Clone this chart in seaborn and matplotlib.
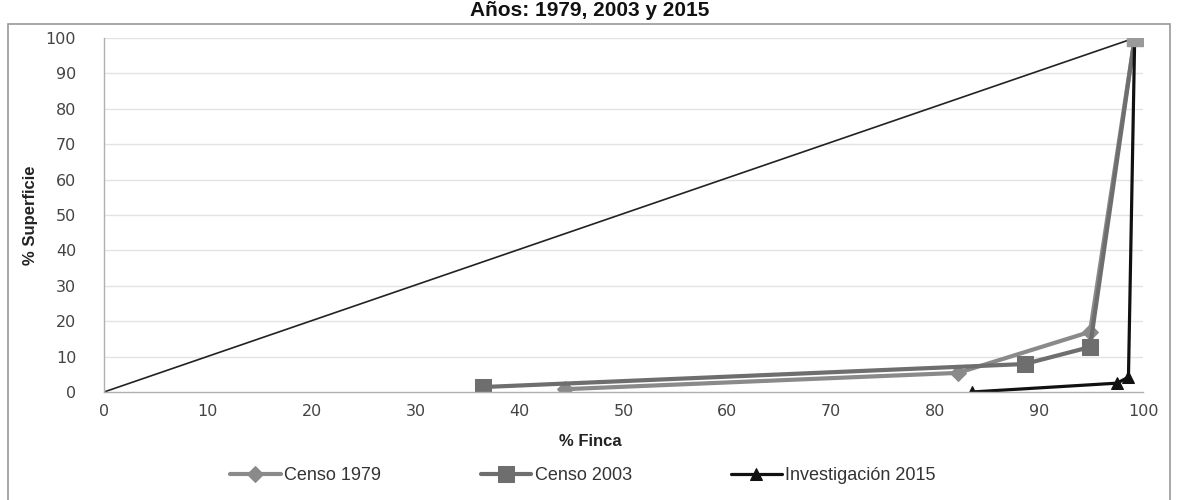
import pandas as pd
import seaborn as sns
import matplotlib.pyplot as plt
from matplotlib.patches import Rectangle

# values (% finca, % superficie)
finca_1979 = [44.4, 82.2, 94.9, 99.2]
sup_1979 = [0.8, 5.4, 17.0, 100]
finca_2003 = [36.5, 88.6, 94.9, 99.2]
sup_2003 = [1.4, 7.9, 12.7, 100]
finca_2015 = [83.5, 97.5, 98.6, 99.2]
sup_2015 = [0.0, 2.5, 4.2, 100]
diagonal_x = [0, 99.2]
diagonal_y = [0, 100]

labels = ["Censo 1979", "Censo 2003", "Investigación 2015"]
ticks = list(range(0, 101, 10))

sns.set_theme(style="white")
plt.rcParams['font.family'] = ['DejaVu Sans']

fig = plt.figure(figsize=(11.77, 5), dpi=100)
ax = fig.add_axes([104 / 1177, 1 - 392 / 500, (1143 - 104) / 1177, (392 - 38) / 500])

# grey frame of the original chart box
fig.patches.append(Rectangle((8 / 1177, -0.05), (1170 - 8) / 1177, 1.05 - 24 / 500,
                             transform=fig.transFigure, fill=False,
                             edgecolor="#9a9a9a", linewidth=1.2))

for y in ticks[1:]:
    ax.axhline(y, color="#e3e3e3", linewidth=1, zorder=0)

sns.lineplot(x=diagonal_x, y=diagonal_y, ax=ax, color="#222222", linewidth=1.2)

sns.lineplot(x=finca_1979, y=sup_1979, ax=ax, sort=False, color="#8a8a8a",
             linewidth=3, marker="D", markersize=8, markeredgecolor="#8a8a8a",
             label=labels[0])
sns.lineplot(x=finca_2003, y=sup_2003, ax=ax, sort=False, color="#6e6e6e",
             linewidth=3, marker="s", markersize=11, markeredgecolor="#6e6e6e",
             label=labels[1])
sns.lineplot(x=finca_2015, y=sup_2015, ax=ax, sort=False, color="#111111",
             linewidth=2.3, marker="^", markersize=9, markeredgecolor="#111111",
             label=labels[2])
# grey marker on top of the last point
ax.plot([finca_1979[-1]], [100], marker="s", markersize=11, color="#9a9a9a", zorder=5)

ax.set_xlim(0, 100)
ax.set_ylim(0, 100)
ax.set_xticks(ticks)
ax.set_yticks(ticks)
ax.tick_params(axis="x", labelsize=11.5, labelcolor="#444444", length=0, pad=9)
ax.tick_params(axis="y", labelsize=11.5, labelcolor="#444444", length=0, pad=20)
for s in ["top", "right"]:
    ax.spines[s].set_visible(False)
for s in ["left", "bottom"]:
    ax.spines[s].set_color("#b0b0b0")
    ax.spines[s].set_linewidth(1)

lab_font = ['Liberation Sans Narrow', 'Liberation Sans', 'DejaVu Sans']
fig.text(590 / 1177, 1 - 442 / 500, "% Finca", ha="center", va="center",
         fontsize=12, fontweight="bold", family=lab_font, color="#222222")
fig.text(30 / 1177, 1 - 215 / 500, "% Superficie", ha="center", va="center",
         rotation=90, fontsize=12, fontweight="bold", family=lab_font, color="#222222")

fig.text(590 / 1177, 1 - 16 / 500, "Años: 1979, 2003 y 2015", ha="center",
         va="baseline", fontsize=15, fontweight="bold",
         family=['Liberation Sans', 'DejaVu Sans'], color="#111111")

handles, lbls = ax.get_legend_handles_labels()
ax.legend_.remove()
fig.legend(handles, lbls, loc="center", bbox_to_anchor=(583 / 1177, 1 - 476 / 500),
           ncol=3, frameon=False, prop={"family": lab_font, "size": 13},
           handlelength=2.8, columnspacing=5.5, handletextpad=0.2, labelcolor="#333333")

fig.savefig("out.png", dpi=100)
